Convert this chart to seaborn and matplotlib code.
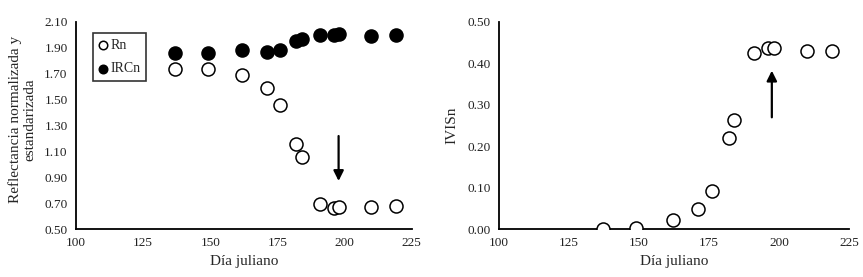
import numpy as np
import pandas as pd
import seaborn as sns
import matplotlib.pyplot as plt

# Datos
dias = [137, 149, 162, 171, 176, 182, 184, 191, 196, 198, 210, 219]
rn = [1.74, 1.74, 1.69, 1.59, 1.46, 1.16, 1.06, 0.69, 0.66, 0.67, 0.67, 0.68]
ircn = [1.86, 1.86, 1.88, 1.87, 1.88, 1.95, 1.97, 2.00, 2.00, 2.01, 1.99, 2.00]
ivisn = [0.00, 0.003, 0.022, 0.048, 0.091, 0.22, 0.263, 0.425, 0.438, 0.436, 0.43, 0.43]

x_ticks = [100, 125, 150, 175, 200, 225]
y1_ticks = [0.50, 0.70, 0.90, 1.10, 1.30, 1.50, 1.70, 1.90, 2.10]
y2_ticks = [0.00, 0.10, 0.20, 0.30, 0.40, 0.50]

df = pd.DataFrame({'dia': dias, 'Rn': rn, 'IRCn': ircn, 'IVISn': ivisn})

sns.set_style("white")
plt.rcParams['font.family'] = ['Liberation Serif', 'DejaVu Serif']

fig = plt.figure(figsize=(8.63, 2.77), dpi=100)
ax1 = fig.add_axes([0.088, 0.173, 0.389, 0.748])
ax2 = fig.add_axes([0.578, 0.173, 0.406, 0.748])

# Panel izquierdo
sns.scatterplot(data=df, x='dia', y='Rn', ax=ax1, s=88, marker='o',
                facecolor='white', edgecolor='black', linewidth=1.1, label='Rn', zorder=3)
sns.scatterplot(data=df, x='dia', y='IRCn', ax=ax1, s=88, marker='o',
                facecolor='black', edgecolor='black', linewidth=1.1, label='IRCn', zorder=3)
ax1.annotate('', xy=(197.8, 0.85), xytext=(197.8, 1.24),
             arrowprops=dict(arrowstyle='-|>', color='black', lw=1.6, mutation_scale=15))
ax1.set_xlim(100, 225)
ax1.set_ylim(0.50, 2.10)
ax1.set_xticks(x_ticks)
ax1.set_yticks(y1_ticks)
ax1.set_yticklabels([f'{v:.2f}' for v in y1_ticks])
ax1.set_xlabel('Día juliano', fontsize=11, labelpad=4)
ax1.set_ylabel('Reflectancia normalizada y\nestandarizada', fontsize=11, linespacing=1.1)
ax1.yaxis.set_label_coords(-0.118, 0.53)
leg = ax1.legend(loc='upper left', bbox_to_anchor=(0.05, 0.945), frameon=True, fancybox=False,
                 edgecolor='black', fontsize=10, handletextpad=0.15, borderpad=0.4,
                 markerscale=0.65, labelspacing=0.75, handlelength=0.7, borderaxespad=0)
leg.get_frame().set_linewidth(1.2)

# Panel derecho
sns.scatterplot(data=df, x='dia', y='IVISn', ax=ax2, s=88, marker='o',
                facecolor='white', edgecolor='black', linewidth=1.1, zorder=3)
ax2.annotate('', xy=(197.4, 0.389), xytext=(197.4, 0.263),
             arrowprops=dict(arrowstyle='-|>', color='black', lw=1.6, mutation_scale=15))
ax2.set_xlim(100, 225)
ax2.set_ylim(0.00, 0.50)
ax2.set_xticks(x_ticks)
ax2.set_yticks(y2_ticks)
ax2.set_yticklabels([f'{v:.2f}' for v in y2_ticks])
ax2.set_xlabel('Día juliano', fontsize=11, labelpad=4)
ax2.set_ylabel('IVISn', fontsize=11, labelpad=6)

for ax in (ax1, ax2):
    sns.despine(ax=ax)
    for sp in ('left', 'bottom'):
        ax.spines[sp].set_color('black')
        ax.spines[sp].set_linewidth(1.3)
    ax.tick_params(axis='both', direction='out', length=3.5, width=1.2, colors='black',
                   labelsize=9.5, pad=2.5)
    for lab in ax.get_xticklabels() + ax.get_yticklabels():
        lab.set_color('#222222')

fig.savefig('out.png', dpi=100)
